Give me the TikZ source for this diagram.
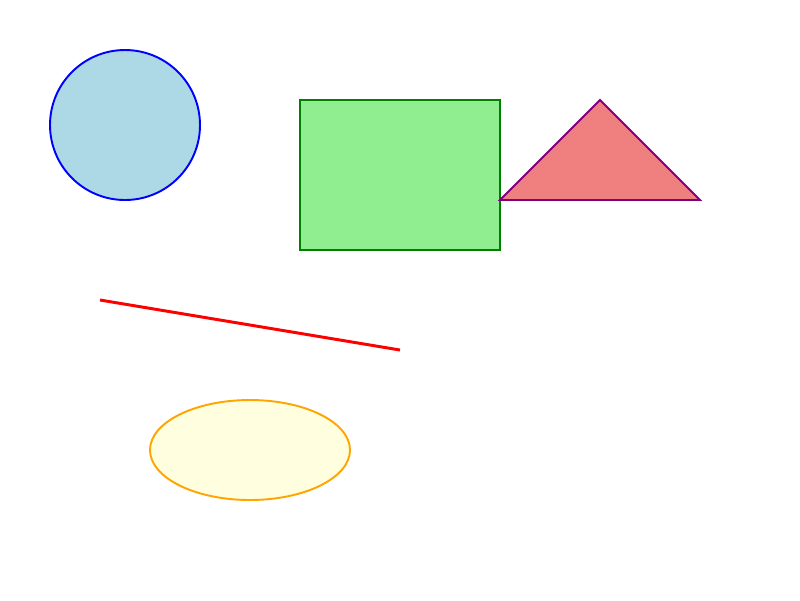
\documentclass[tikz,border=0pt]{standalone}
\usepackage{tikz}

\definecolor{lightblue}{RGB}{173,216,230}
\definecolor{lightgreen}{RGB}{144,238,144}
\definecolor{lightcoral}{RGB}{240,128,128}
\definecolor{lightyellow}{RGB}{255,255,224}
\definecolor{darkgreen}{RGB}{0,128,0}
\definecolor{shapepurple}{RGB}{128,0,128}
\definecolor{shapeorange}{RGB}{255,165,0}

\begin{document}
\begin{tikzpicture}[x=0.02cm, y=-0.02cm]
        % Define styles
        \tikzset{
            outline/.style={line width=1.1pt},
            stroke/.style={line width=1.7pt}
        }

        \useasboundingbox (0,0) rectangle (800,600);

        % Shapes
        \draw[outline, draw=blue, fill=lightblue] (125,125) circle [radius=75];
        \draw[outline, draw=darkgreen, fill=lightgreen] (300,100) rectangle (500,250);
        \draw[outline, draw=shapepurple, fill=lightcoral] (600,100) -- (700,200) -- (500,200) -- cycle;
        \draw[stroke, draw=red] (100,300) -- (400,350);
        \draw[outline, draw=shapeorange, fill=lightyellow] (250,450) ellipse [x radius=100, y radius=50];
    \end{tikzpicture}
\end{document}
